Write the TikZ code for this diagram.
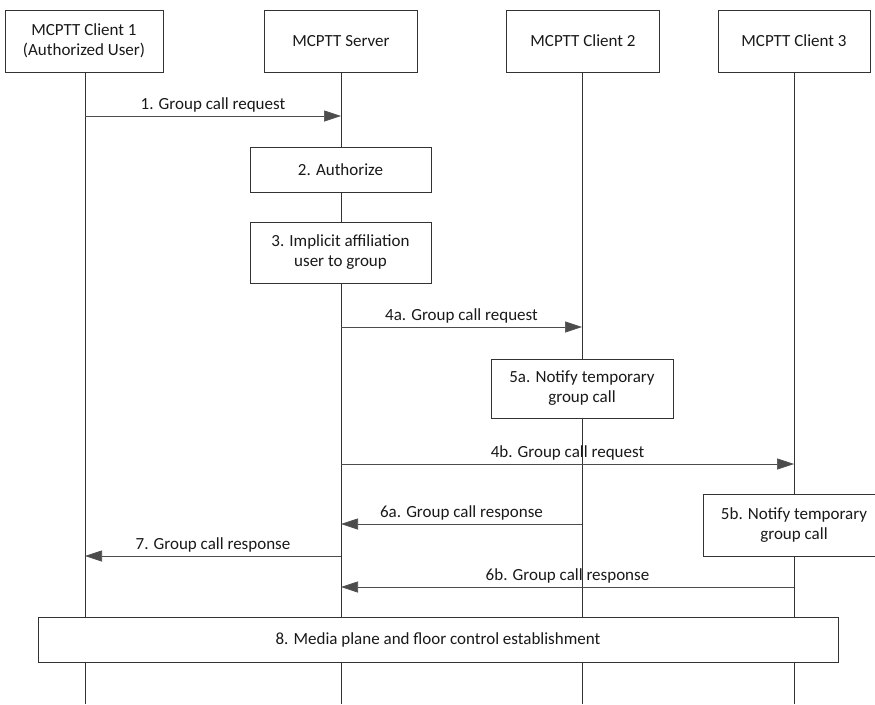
\documentclass[tikz,border=0pt]{standalone}
\usepackage{fontspec}
\setmainfont{Carlito}
\usetikzlibrary{arrows.meta}
\begin{document}
\begin{tikzpicture}[x=1pt,y=-1pt,
  every node/.style={font=\fontsize{17}{20}\selectfont, text=black!90},
  actor/.style={draw=black!80, line width=0.6pt, minimum width=155pt, minimum height=62pt, align=center, inner sep=0pt},
  proc/.style={draw=black!80, line width=0.6pt, align=center, inner sep=0pt},
  life/.style={draw=black!80, line width=0.6pt},
  msg/.style={draw=black!70, line width=0.6pt, -{Triangle[length=17pt,width=11pt]}},
  lbl/.style={inner sep=1pt, anchor=south}]
\useasboundingbox (0,0) rectangle (875,704);
\begin{scope}
\clip (0,0) rectangle (875,704);
% actors
\node[actor, minimum width=158pt] (c1) at (84,41) {MCPTT Client 1\\(Authorized User)};
\node[actor, minimum width=153pt] (srv) at (341,41) {MCPTT Server};
\node[actor, minimum width=153pt] (c2) at (583,41) {MCPTT Client 2};
\node[actor, minimum width=152pt] (c3) at (794,41) {MCPTT Client 3};
\coordinate (e1) at (85,704);
\coordinate (es) at (341,704);
\coordinate (e2) at (582,704);
\coordinate (e3) at (794,704);
\draw[life] (c1.south -| e1) -- (e1);
\draw[life] (srv.south -| es) -- (es);
\draw[life] (c2.south -| e2) -- (e2);
\draw[life] (c3.south -| e3) -- (e3);
% process boxes
\node[proc, fill=white, minimum width=181pt, minimum height=45pt] (auth) at (340.5,169.5) {2. Authorize};
\node[proc, fill=white, minimum width=181pt, minimum height=61pt] (aff) at (340.5,252.5) {3. Implicit affiliation\\user to group};
\node[proc, fill=white, minimum width=182pt, minimum height=59pt] (n5a) at (582,388.5) {5a. Notify temporary\\group call};
\node[proc, fill=white, minimum width=182pt, minimum height=62pt] (n5b) at (794,525) {5b. Notify temporary\\group call};
\node[proc, fill=white, minimum width=800pt, minimum height=45pt] (media) at (438,639.5) {8. Media plane and floor control establishment};
% message anchors
\coordinate (m1a) at (85,116);  \coordinate (m1b) at (341,116);
\coordinate (m4aa) at (341,327); \coordinate (m4ab) at (582,327);
\coordinate (m4ba) at (341,464); \coordinate (m4bb) at (794,464);
\coordinate (m6aa) at (582,524); \coordinate (m6ab) at (341,524);
\coordinate (m7a) at (341,556);  \coordinate (m7b) at (85,556);
\coordinate (m6ba) at (794,587); \coordinate (m6bb) at (341,587);
\draw[msg] (m1a) -- node[lbl, yshift=2pt] {1. Group call request} (m1b);
\draw[msg] (m4aa) -- node[lbl, yshift=2pt] {4a. Group call request} (m4ab);
\draw[msg] (m4ba) -- node[lbl, yshift=2pt] {4b. Group call request} (m4bb);
\draw[msg] (m6aa) -- node[lbl, yshift=2pt] {6a. Group call response} (m6ab);
\draw[msg] (m7a) -- node[lbl, yshift=2pt] {7. Group call response} (m7b);
\draw[msg] (m6ba) -- node[lbl, yshift=2pt] {6b. Group call response} (m6bb);
\end{scope}
\end{tikzpicture}
\end{document}
